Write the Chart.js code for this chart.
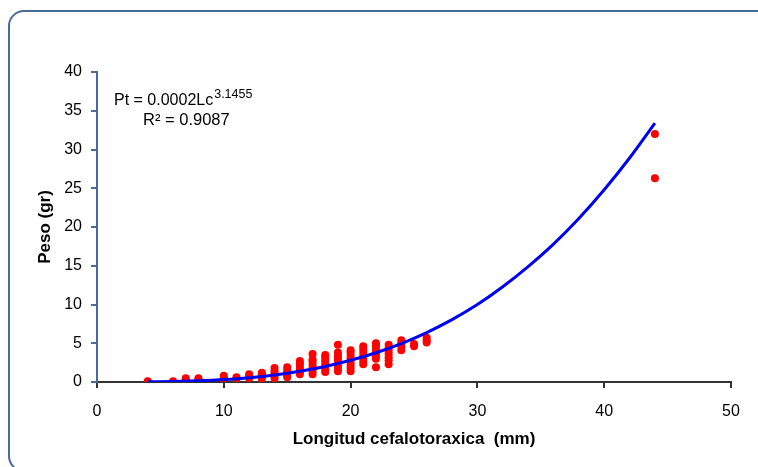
<!DOCTYPE html>
<html>
<head>
<meta charset="utf-8">
<script src="https://cdn.jsdelivr.net/npm/chart.js@4.4.1/dist/chart.umd.min.js"></script>
<style>
  html, body { margin: 0; padding: 0; background: #fff; }
  #wrap { position: relative; width: 758px; height: 467px; overflow: hidden; }
  #frame {
    position: absolute; left: 8px; top: 10px; width: 770px; height: 462px;
    border: 2px solid #4a6a98; border-radius: 16px; box-sizing: border-box;
    pointer-events: none;
  }
  canvas { position: absolute; left: 0; top: 0; }
</style>
</head>
<body>
<div id="wrap">
  <div id="frame"></div>
  <canvas id="chart" width="758" height="467"></canvas>
</div>
<script>
// observed points: longitud cefalotoraxica (mm) vs peso (gr)
const lcValues = [
  4, 6,
  7, 7, 7,
  8, 8, 8,
  10, 10, 10,
  11, 11,
  12, 12, 12,
  13, 13, 13, 13,
  14, 14, 14, 14, 14,
  15, 15, 15, 15, 15,
  16, 16, 16, 16, 16, 16,
  17, 17, 17, 17, 17, 17, 17,
  18, 18, 18, 18, 18, 18, 18,
  19, 19, 19, 19, 19, 19, 19, 19,
  20, 20, 20, 20, 20, 20, 20, 20,
  21, 21, 21, 21, 21, 21, 21,
  22, 22, 22, 22, 22, 22, 22,
  23, 23, 23, 23, 23, 23, 23,
  24, 24, 24, 24,
  25, 25,
  26, 26, 26,
  44, 44
];
const ptValues = [
  0.1, 0.1,
  0.1, 0.3, 0.5,
  0.1, 0.3, 0.5,
  0.3, 0.5, 0.8,
  0.4, 0.6,
  0.5, 0.8, 1.0,
  0.4, 0.7, 1.0, 1.2,
  0.5, 0.8, 1.1, 1.4, 1.8,
  0.6, 0.9, 1.2, 1.5, 1.9,
  1.0, 1.3, 1.6, 2.0, 2.4, 2.7,
  1.0, 1.4, 1.8, 2.2, 2.6, 2.9, 3.6,
  1.3, 1.6, 2.0, 2.4, 2.8, 3.2, 3.5,
  1.4, 1.8, 2.2, 2.6, 3.0, 3.4, 3.8, 4.8,
  1.4, 1.8, 2.2, 2.6, 3.0, 3.4, 3.8, 4.1,
  2.3, 2.7, 3.1, 3.5, 3.9, 4.3, 4.6,
  1.9, 3.0, 3.4, 3.8, 4.2, 4.6, 5.0,
  2.3, 2.8, 3.2, 3.6, 4.0, 4.4, 4.8,
  4.1, 4.6, 5.0, 5.4,
  4.6, 4.9,
  5.1, 5.4, 5.7,
  26.3, 32.0
];

// potential trendline
const trendLc = [4, 6, 8, 10, 12, 14, 16, 18, 20, 22, 24, 26, 28, 30, 32, 34, 36, 38, 40, 42, 44];
const trendPt = [0.02, 0.06, 0.16, 0.32, 0.56, 0.91, 1.39, 2.01, 2.80, 3.77, 4.96, 6.38, 8.05, 10.0, 12.3, 14.9, 17.8, 21.1, 24.8, 28.9, 33.4];

const xTicksMax = 50;
const yTicksMax = 40;
const xLabel = 'Longitud cefalotoraxica  (mm)';
const yLabel = 'Peso (gr)';
const eqMain = 'Pt = 0.0002Lc';
const eqExp = '3.1455';
const eqR2 = 'R² = 0.9087';

const font = "'Liberation Sans', Arial, sans-serif";

const points = lcValues.map((x, i) => ({ x: x, y: ptValues[i] }));
const trend = trendLc.map((x, i) => ({ x: x, y: trendPt[i] }));

const equationPlugin = {
  id: 'equation',
  afterDraw(chart) {
    const ctx = chart.ctx;
    ctx.save();
    ctx.fillStyle = '#000';
    ctx.textBaseline = 'alphabetic';
    ctx.font = '16px ' + font;
    ctx.fillText(eqMain, 114, 105);
    const w = ctx.measureText(eqMain).width;
    ctx.font = '12.5px ' + font;
    ctx.fillText(eqExp, 114 + w + 1, 98);
    ctx.font = '16.5px ' + font;
    ctx.fillText(eqR2, 143, 125);
    ctx.restore();
  }
};

new Chart(document.getElementById('chart'), {
  type: 'scatter',
  data: {
    datasets: [
      {
        label: 'tendencia',
        data: trend,
        showLine: true,
        borderColor: '#0000f0',
        borderWidth: 3,
        pointRadius: 0,
        cubicInterpolationMode: 'monotone',
        fill: false
      },
      {
        label: 'Pt',
        data: points,
        backgroundColor: '#ff0000',
        borderColor: '#ff0000',
        pointRadius: 4,
        pointBorderWidth: 0
      }
    ]
  },
  options: {
    responsive: false,
    animation: false,
    layout: { padding: { left: 0, top: 72, right: 27, bottom: 0 } },
    plugins: { legend: { display: false }, tooltip: { enabled: false } },
    scales: {
      x: {
        type: 'linear', min: 0, max: xTicksMax,
        afterFit(scale) { scale.height = 85; },
        ticks: { stepSize: 10, color: '#000', padding: 14, font: { family: font, size: 16 } },
        grid: { drawOnChartArea: false, drawTicks: true, tickLength: 6, color: '#333', lineWidth: 2 },
        border: { display: true, color: '#333', width: 2 },
        title: { display: true, text: xLabel, color: '#000', padding: { top: 0, bottom: 17 }, font: { family: font, size: 17, weight: 'bold' } }
      },
      y: {
        type: 'linear', min: 0, max: yTicksMax,
        afterFit(scale) { scale.width = 97; },
        ticks: { stepSize: 5, color: '#000', padding: 9, font: { family: font, size: 16 } },
        grid: { drawOnChartArea: false, drawTicks: true, tickLength: 6, color: '#4a6a98', lineWidth: 2 },
        border: { display: true, color: '#4a6a98', width: 2 },
        title: { display: true, text: yLabel, color: '#000', padding: { top: 35, bottom: 0 }, font: { family: font, size: 17, weight: 'bold' } }
      }
    }
  },
  plugins: [equationPlugin]
});
</script>
</body>
</html>
